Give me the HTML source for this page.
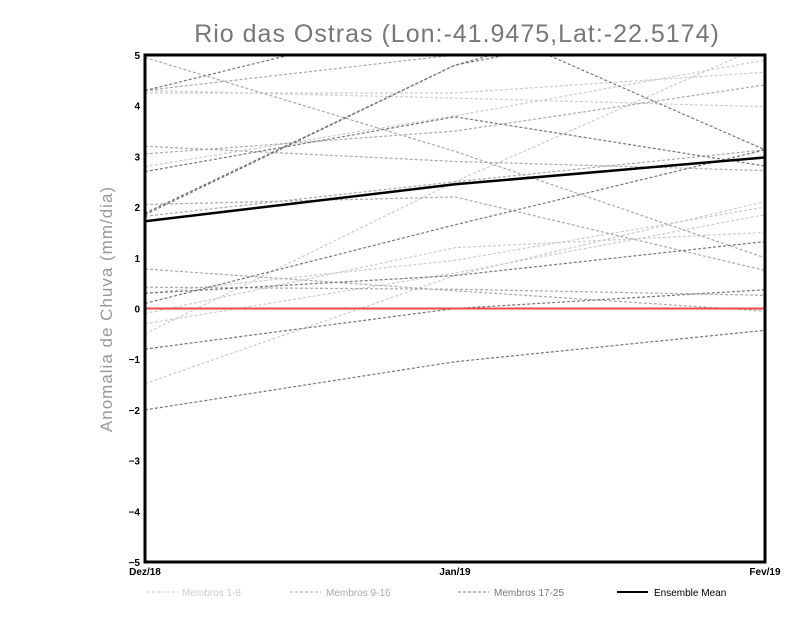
<!DOCTYPE html>
<html><head><meta charset="utf-8"><style>
body{margin:0;background:#fff;}
svg{display:block;font-family:"Liberation Sans",sans-serif;}
</style></head><body>
<svg id="chart" width="800" height="618">
<defs><clipPath id="pc"><rect x="145" y="55" width="620" height="507"/></clipPath></defs>
<text x="457" y="42" text-anchor="middle" font-size="25" fill="#777" style="letter-spacing:1px">Rio das Ostras (Lon:-41.9475,Lat:-22.5174)</text>
<text transform="translate(112,309) rotate(-90)" text-anchor="middle" font-size="17" fill="#999" style="letter-spacing:1px">Anomalia de Chuva (mm/dia)</text>
<g id="marks" clip-path="url(#pc)"></g>
<g id="axes"></g>
<g id="legend">
<line x1="147" y1="592" x2="178" y2="592" stroke="#ccc" stroke-dasharray="3,2"/>
<text x="182" y="596" font-size="10" fill="#ccc">Membros 1-8</text>
<line x1="290" y1="592" x2="321" y2="592" stroke="#aaa" stroke-dasharray="3,2"/>
<text x="326" y="596" font-size="10" fill="#aaa">Membros 9-16</text>
<line x1="458" y1="592" x2="489" y2="592" stroke="#777" stroke-dasharray="3,2"/>
<text x="494" y="596" font-size="10" fill="#777">Membros 17-25</text>
<line x1="617" y1="592" x2="648" y2="592" stroke="#000" stroke-width="2"/>
<text x="654" y="596" font-size="10" fill="#000">Ensemble Mean</text>
</g>
</svg>
<script>
const categories=["Dez/18","Jan/19","Fev/19"];
const yTicks=[-5,-4,-3,-2,-1,0,1,2,3,4,5];
const members1to8=[[4.25,4.25,4.66],[4.3,4.15,3.98],[2.8,3.8,4.9],[-0.5,2.5,5.2],[-1.48,0.65,2.11],[-0.1,1.2,1.5],[-0.3,0.7,1.85],[0.3,0.95,2.0]];
const members9to16=[[4.95,3.1,1.0],[4.3,5.0,5.5],[3.2,2.9,2.72],[3.05,3.5,4.41],[2.05,2.2,0.75],[1.82,2.5,3.13],[0.42,0.38,0.26],[0.78,0.35,-0.05]];
const members17to25=[[1.85,4.8,6.5],[1.88,4.8,6.0],[2.7,3.78,2.81],[4.3,5.8,7.0],[0.1,1.65,3.13],[-0.8,0.0,0.37],[-2.0,-1.05,-0.43],[0.3,0.65,1.32],[6.5,5.8,3.13]];
const ensembleMean=[1.72,2.45,2.98];
const zeroLine=[0,0,0];
const X0=145,X1=765,Y0=562,Y1=55;
const xs=i=>X0+(X1-X0)*i/(categories.length-1);
const ys=v=>Y0-(v+5)/10*(Y0-Y1);
const NS="http://www.w3.org/2000/svg";
const marks=document.getElementById('marks'),axes=document.getElementById('axes');
function poly(vals,color,w,dash,name){
 const p=document.createElementNS(NS,'polyline');
 p.setAttribute('points',vals.map((v,i)=>xs(i)+','+ys(v)).join(' '));
 p.setAttribute('fill','none');p.setAttribute('stroke',color);p.setAttribute('stroke-width',w);
 if(dash)p.setAttribute('stroke-dasharray',dash);
 
 
 marks.appendChild(p);
}
members1to8.forEach((s,i)=>poly(s,'#ccc',1.2,'3,2','member-'+(i+1)+'-line'));
members9to16.forEach((s,i)=>poly(s,'#aaa',1.2,'3,2','member-'+(i+9)+'-line'));
members17to25.forEach((s,i)=>poly(s,'#777',1.2,'3,2','member-'+(i+17)+'-line'));
poly(zeroLine,'#f04848',2,null,'zero-line');
poly(ensembleMean,'#000',2.5,null,'ensemble-mean-line');
const r=document.createElementNS(NS,'rect');
r.setAttribute('x',X0);r.setAttribute('y',Y1);r.setAttribute('width',X1-X0);r.setAttribute('height',Y0-Y1);
r.setAttribute('fill','none');r.setAttribute('stroke','#000');r.setAttribute('stroke-width','3');


axes.appendChild(r);
yTicks.forEach(t=>{
 const tx=document.createElementNS(NS,'text');
 tx.setAttribute('x',X0-5);tx.setAttribute('y',ys(t)+4);tx.setAttribute('text-anchor','end');
 tx.setAttribute('font-size','10');tx.setAttribute('font-weight','bold');
 tx.textContent=(t<0?'\u2212'+(-t):t);
 
 
 axes.appendChild(tx);
});
categories.forEach((c,i)=>{
 const tx=document.createElementNS(NS,'text');
 tx.setAttribute('x',xs(i));tx.setAttribute('y',Y0+13);tx.setAttribute('text-anchor','middle');
 tx.setAttribute('font-size','10');tx.setAttribute('font-weight','bold');
 tx.textContent=c;
 
 
 axes.appendChild(tx);
});
</script>
</body></html>
